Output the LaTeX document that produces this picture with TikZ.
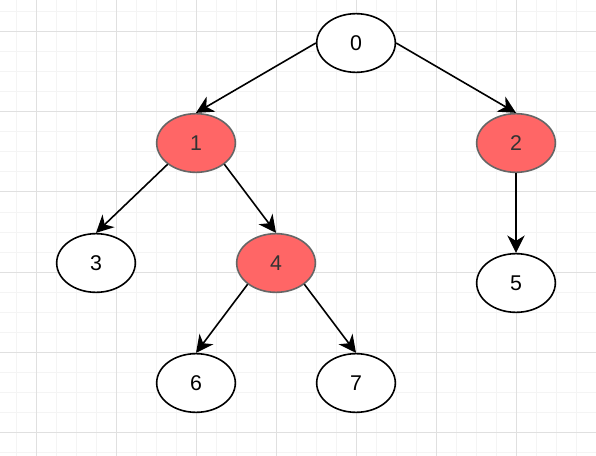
\documentclass[tikz,border=0pt]{standalone}
\usepackage{fontspec}
\setmainfont{Liberation Sans}
\usetikzlibrary{positioning, shapes.geometric, arrows.meta}
\definecolor{GridMinor} {HTML}{F4F4F4}
\definecolor{GridMajor} {HTML}{E0E0E0}
\definecolor{HotRed}    {HTML}{FF6666}
\definecolor{HotEdge}   {HTML}{666666}

\begin{document}
\begin{tikzpicture}[x=0.75pt, y=-0.75pt,
    vtx/.style={ellipse, draw=black, line width=1.2pt, fill=white,
                minimum width=59pt, minimum height=44pt, inner sep=0pt,
                font=\fontsize{16}{18}\selectfont},
    hot/.style={vtx, fill=HotRed, draw=HotEdge, text=black!80},
    edge/.style={-{Stealth[length=13pt, width=13pt, inset=4pt]}, line width=1.2pt}]
      % background grid
      \useasboundingbox (0,0) rectangle (596,456);
      \fill[white] (0,0) rectangle (596,456);
      \foreach \x in {16,36,...,596} \draw[GridMinor, line width=0.75pt] (\x,0) -- (\x,456);
      \foreach \y in {12,32,...,456} \draw[GridMinor, line width=0.75pt] (0,\y) -- (596,\y);
      \foreach \x in {36,116,...,596} \draw[GridMajor, line width=0.75pt] (\x,0) -- (\x,456);
      \foreach \y in {32,112,...,456} \draw[GridMajor, line width=0.75pt] (0,\y) -- (596,\y);

      % tree
      \node[vtx] (n0) at (356,43)  {0};
      \node[hot] (n1) at (196,143) {1};
      \node[hot] (n2) at (516,143) {2};
      \node[vtx] (n3) at (96,263)  {3};
      \node[hot] (n4) at (276,263) {4};
      \node[vtx] (n5) at (516,283) {5};
      \node[vtx] (n6) at (196,383) {6};
      \node[vtx] (n7) at (356,383) {7};

      \draw[edge] (n0.west)       -- (n1.north);
      \draw[edge] (n0.east)       -- (n2.north);
      \draw[edge] (n1.south west) -- (n3.north);
      \draw[edge] (n1.south east) -- (n4.north);
      \draw[edge] (n2.south)      -- (n5.north);
      \draw[edge] (n4.south west) -- (n6.north);
      \draw[edge] (n4.south east) -- (n7.north);
    \end{tikzpicture}
\end{document}
